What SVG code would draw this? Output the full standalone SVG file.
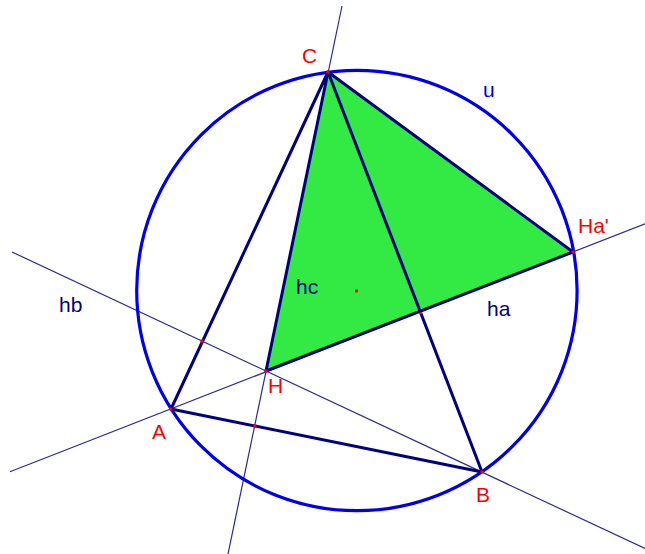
<svg xmlns="http://www.w3.org/2000/svg" width="645" height="554" viewBox="0 0 645 554">
<style>
.thin{stroke:#2a2a9a;stroke-width:1.2;fill:none}
.edge{stroke:#000080;stroke-width:3;fill:none;stroke-linejoin:round}
.circ{stroke:#0000ee;stroke-width:3.2;fill:none}
.pt{fill:#ff0000}
.lp{font-family:"Liberation Sans",Arial,sans-serif;font-size:21px;fill:#ff0000}
.ln{font-family:"Liberation Sans",Arial,sans-serif;font-size:21px;fill:#000080}
.lu{font-family:"Liberation Sans",Arial,sans-serif;font-size:21px;fill:#0000ee}
</style>
<rect width="645" height="554" fill="#ffffff"/>
<g id="triangle-fill">
<polygon points="328,72 266,371 573,252" fill="#33ea44"/>
</g>
<g id="connectors">
<line id="ha" class="thin" x1="10" y1="471.8" x2="645" y2="223.8"/>
<line id="hb" class="thin" x1="12" y1="252" x2="645" y2="548.5"/>
<line id="hc" class="thin" x1="342" y1="6" x2="228" y2="554"/>
<circle id="u" class="circ" cx="356.9" cy="290.5" r="220.2"/>
<line class="edge" x1="328" y1="72" x2="171" y2="409"/>
<line class="edge" x1="171" y1="409" x2="482" y2="472"/>
<line class="edge" x1="482" y1="472" x2="328" y2="72"/>
<polygon class="edge" points="328,72 266,371 573,252"/>
</g>
<g id="points">
<rect class="pt" x="326.5" y="70.5" width="3" height="3"/>
<rect class="pt" x="169.5" y="407.5" width="3" height="3"/>
<rect class="pt" x="480.5" y="470.5" width="3" height="3"/>
<rect class="pt" x="264.5" y="369.5" width="3" height="3"/>
<rect class="pt" x="571.5" y="250.5" width="3" height="3"/>
<rect class="pt" x="200.5" y="339.5" width="3" height="3"/>
<rect class="pt" x="253.5" y="424.5" width="3" height="3"/>
<rect class="pt" x="420" y="312" width="2" height="2"/>
<rect class="pt" x="355" y="289.5" width="3" height="3"/>
</g>
<g id="label-C"><text class="lp" x="302" y="63">C</text></g>
<g id="label-A"><text class="lp" x="152" y="439">A</text></g>
<g id="label-B"><text class="lp" x="476" y="502">B</text></g>
<g id="label-H"><text class="lp" x="268" y="393">H</text></g>
<g id="label-Ha"><text class="lp" x="578" y="233">Ha'</text></g>
<g id="label-ha"><text class="ln" x="487" y="316">ha</text></g>
<g id="label-hb"><text class="ln" x="59" y="312">hb</text></g>
<g id="label-hc"><text class="ln" x="296" y="294">hc</text></g>
<g id="label-u"><text class="lu" x="483" y="97">u</text></g>
</svg>
